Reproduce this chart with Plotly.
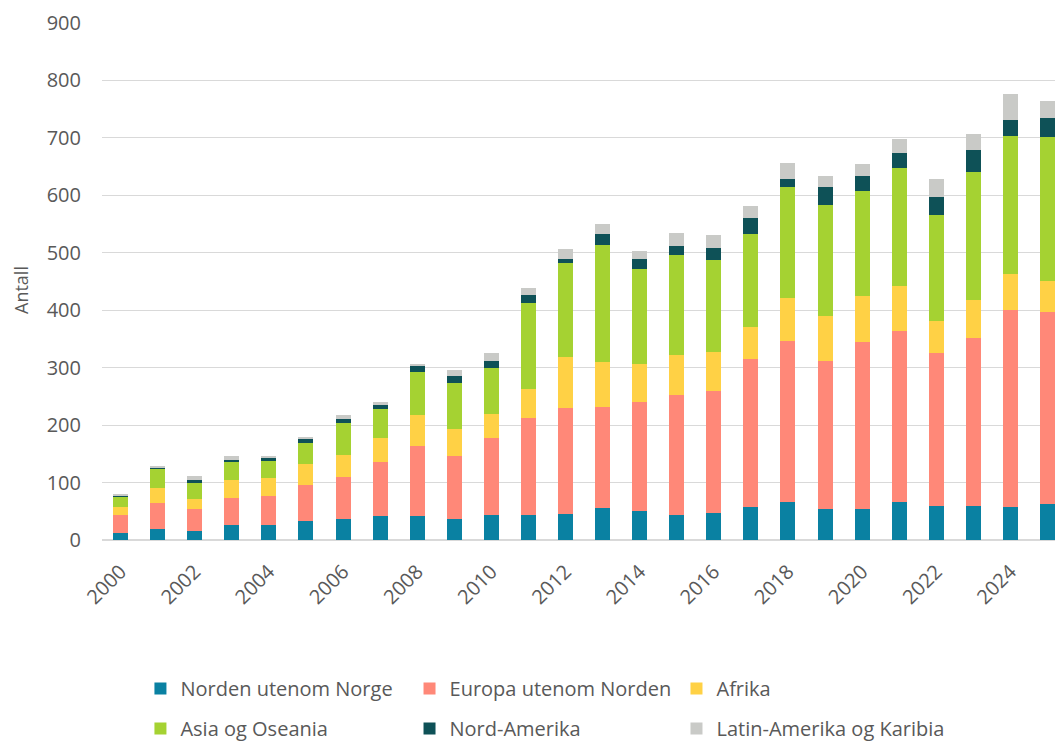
import plotly.graph_objects as go

years = list(range(2000, 2026))

norden = [12, 20, 16, 26, 26, 33, 36, 42, 41, 36, 44, 44, 46, 55, 51, 43, 47, 57, 67, 54, 54, 66, 60, 59, 58, 62]
europa = [31, 44, 38, 47, 51, 62, 74, 93, 122, 111, 134, 168, 183, 176, 190, 210, 212, 258, 279, 257, 290, 298, 265, 293, 342, 335]
afrika = [15, 27, 17, 32, 31, 38, 38, 43, 55, 46, 41, 51, 89, 79, 65, 69, 68, 56, 75, 79, 80, 79, 56, 66, 63, 54]
asia = [16, 33, 28, 30, 30, 36, 55, 50, 75, 80, 81, 150, 165, 204, 166, 174, 160, 162, 193, 194, 183, 205, 184, 222, 241, 251]
nordam = [4, 2, 5, 5, 5, 7, 8, 7, 10, 12, 12, 13, 6, 18, 18, 15, 22, 28, 15, 31, 26, 26, 32, 39, 27, 32]
latin = [2, 2, 7, 6, 3, 3, 6, 6, 4, 11, 13, 13, 17, 18, 13, 23, 22, 20, 28, 19, 22, 24, 32, 27, 46, 31]

series_names = ["Norden utenom Norge", "Europa utenom Norden", "Afrika",
                "Asia og Oseania", "Nord-Amerika", "Latin-Amerika og Karibia"]
series_values = [norden, europa, afrika, asia, nordam, latin]
series_colors = ["#0A81A2", "#FF8878", "#FFD145", "#A5D232", "#0E5157", "#C9CAC7"]

tick_years = list(range(2000, 2025, 2))

font_family = "Open Sans, Liberation Sans, sans-serif"
legend_font = dict(family=font_family, size=20, color="#595959")

# legend grid: 3 columns x 2 rows, one legend per entry
col_x = [0.0400, 0.3200, 0.5978]
row_y = [-0.3249, -0.4023]
legend_ids = ["legend", "legend2", "legend3", "legend4", "legend5", "legend6"]

fig = go.Figure()
for i, (name, vals, color) in enumerate(zip(series_names, series_values, series_colors)):
    fig.add_trace(go.Bar(
        x=years, y=vals, name=name, legend=legend_ids[i],
        marker=dict(color=color, line=dict(width=0)),
    ))

legend_layouts = {}
for i, lid in enumerate(legend_ids):
    legend_layouts[lid] = dict(
        orientation="h",
        x=col_x[i % 3], xanchor="left",
        y=row_y[i // 3], yanchor="bottom",
        font=legend_font,
        bgcolor="rgba(0,0,0,0)",
    )

fig.update_layout(
    barmode="stack",
    bargap=0.595,
    width=1055, height=736,
    margin=dict(l=94, r=0, t=15, b=204, autoexpand=False),
    paper_bgcolor="white",
    plot_bgcolor="white",
    font=dict(family=font_family, color="#595959"),
    xaxis=dict(
        range=[1999.5, 2025.417],
        tickmode="array",
        tickvals=tick_years,
        ticktext=[str(y) for y in tick_years],
        tickangle=-45,
        tickfont=dict(size=20, color="#595959"),
        showgrid=False,
        zeroline=False,
        showline=False,
        ticklabelstandoff=15,
        automargin=False,
        fixedrange=True,
    ),
    yaxis=dict(
        range=[0, 900],
        tickmode="linear",
        tick0=0,
        dtick=100,
        tickfont=dict(size=20, color="#595959"),
        showgrid=True,
        gridcolor="#D9D9D9",
        gridwidth=1.3,
        zeroline=True,
        zerolinecolor="#D9D9D9",
        zerolinewidth=1.5,
        showline=False,
        ticklabelstandoff=20,
        automargin=False,
    ),
    annotations=[dict(
        text="Antall", textangle=-90,
        xref="paper", yref="paper",
        x=-0.0843, y=0.4836, xanchor="center", yanchor="middle",
        showarrow=False,
        font=dict(family=font_family, size=18, color="#595959"),
    )],
    showlegend=True,
    **legend_layouts,
)

fig.write_html("out.html")
